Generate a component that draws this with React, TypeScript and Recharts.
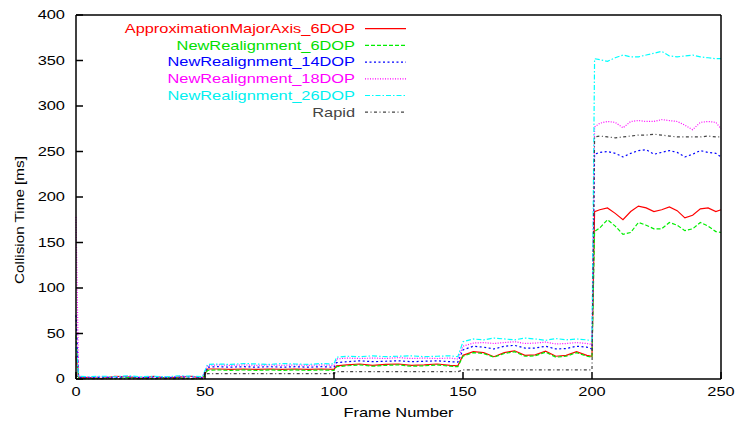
import { LineChart, Line, XAxis, YAxis, Legend } from "recharts";

// frame numbers where the curves were sampled
const frames = [
  0, 1, 5, 10, 15, 20, 25, 30, 35, 40, 45, 49,
  51, 55, 60, 65, 70, 75, 80, 85, 90, 95, 100,
  101, 105, 110, 115, 120, 125, 130, 135, 140, 145, 148,
  150, 154, 158, 162, 166, 170, 174, 178, 182, 186, 190, 194, 198, 200,
  201, 203, 206, 209, 212, 215, 218, 221, 224, 227, 230, 233, 236, 239, 242, 245, 248, 250,
];

const approxMajorAxis6 = [
  25, 2, 1.5, 0.5, 3, 2.5, 0.5, 3, 1, 2, 3, 0.5,
  11, 11, 10.5, 11, 10.5, 11, 10.5, 11, 10.5, 11, 10.5,
  14.5, 15.5, 16.5, 15, 16, 16.5, 15, 15.5, 16.5, 15, 14.5,
  26, 30, 29, 24.5, 29, 31, 26, 26.5, 30.5, 25, 26, 30, 26, 25,
  184, 186, 188, 182, 175, 184, 190, 188, 184, 186, 189, 185, 177, 180, 187, 188, 184, 186,
];

const realign6 = [
  48, 1, 0.5, 1, 0.5, 1.5, 1, 0.5, 1.5, 1, 0.5, 1,
  9.5, 10, 9.5, 10, 9.5, 10, 9.5, 10, 9.5, 10, 9.5,
  13.5, 14.5, 15.5, 14, 15, 15.5, 14, 14.5, 15.5, 14, 13.5,
  25, 29, 28, 24, 28, 30, 25, 25.5, 29.5, 24, 25, 29, 25, 24,
  162, 166, 175, 168, 159, 161, 172, 169, 165, 165, 172, 169, 163, 165, 172, 168, 162, 161,
];

const realign14 = [
  70, 2, 1.5, 2, 1.5, 2.5, 1.5, 2, 1.5, 2, 2.5, 1.5,
  13, 13.5, 13, 13.5, 13, 13.5, 13, 13.5, 13, 13.5, 13,
  18, 19, 20, 19, 19.5, 20, 19, 19.5, 20, 19, 18.5,
  32, 36, 35, 33, 36, 37, 34, 34, 36, 33, 33.5, 36, 35, 33,
  247, 249, 250, 248, 244, 248, 251, 252, 247, 249, 251, 249, 244, 247, 251, 249, 248, 244,
];

const realign18 = [
  178, 3, 2, 2.5, 2, 3, 2, 2.5, 2, 3, 2.5, 2,
  15, 15.5, 15, 15.5, 15, 15.5, 15, 15.5, 15, 15.5, 15,
  22, 23, 22.5, 23, 22.5, 23.5, 22.5, 23, 22.5, 23, 22,
  36, 39.5, 40, 39, 40, 41, 39, 39.5, 40.5, 38.5, 39, 40, 39, 38,
  277, 281, 283, 282, 276, 283, 284, 283, 283, 285, 284, 283, 279, 274, 282, 283, 282, 275,
];

const realign26 = [
  35, 3, 2.5, 3, 2.5, 3.5, 2.5, 3, 2.5, 3.5, 3, 2.5,
  16, 16.5, 16, 17, 16.5, 16, 17, 16.5, 16, 17, 16.5,
  24, 25, 24.5, 25.5, 24.5, 25, 25.5, 24.5, 25, 25.5, 24.5,
  41, 44, 43, 45, 44, 43, 45, 44, 42.5, 44.5, 43, 44, 43, 42,
  352, 351, 349, 353, 356, 354, 354, 356, 358, 360, 355, 354, 355, 356, 354, 353, 352, 352,
];

const rapid = [
  5, 0.5, 0.5, 0.5, 0.5, 0.5, 0.5, 0.5, 0.5, 0.5, 0.5, 0.5,
  6, 6, 6, 6, 6, 6, 6, 6, 6, 6, 6,
  8, 8, 8, 8, 8, 8, 8, 8, 8, 8, 8,
  10, 10, 10, 10, 10, 10, 10, 10, 10, 10, 10, 10, 10, 10,
  266, 267, 266, 265, 266, 267, 268, 268, 269, 268, 267, 266, 266, 266, 266, 267, 266, 266,
];

const xTicks = [0, 50, 100, 150, 200, 250];
const yTicks = [0, 50, 100, 150, 200, 250, 300, 350, 400];

const series = [
  { key: "approx6", name: "ApproximationMajorAxis_6DOP", color: "#ff0000", text: "#ff0000", dash: undefined, values: approxMajorAxis6 },
  { key: "re6", name: "NewRealignment_6DOP", color: "#00ee00", text: "#00e000", dash: "4 2", values: realign6 },
  { key: "re14", name: "NewRealignment_14DOP", color: "#0000ff", text: "#0000ff", dash: "2 2.5", values: realign14 },
  { key: "re18", name: "NewRealignment_18DOP", color: "#ff00ff", text: "#ff00ff", dash: "1 1.5", values: realign18 },
  { key: "re26", name: "NewRealignment_26DOP", color: "#00ffff", text: "#00f0f0", dash: "5 2 1.5 2", values: realign26 },
  { key: "rapid", name: "Rapid", color: "#444444", text: "#444444", dash: "3 2.5 1 2.5", values: rapid },
];

const data = frames.map((frame, i) => {
  const row: Record<string, number> = { frame };
  series.forEach((s) => {
    row[s.key] = s.values[i];
  });
  return row;
});

const FONT = '"Liberation Sans", Arial, Helvetica, sans-serif';
const FONT_SIZE = 12.6;
const STRETCH = 1.3;

// gnuplot text looks wide, so squash it sideways a bit
const WideText = ({ x, y, anchor, fill = "#000", rotate = 0, stretch = STRETCH, children }: any) => (
  <text
    transform={`translate(${x},${y}) rotate(${rotate}) scale(${stretch},1)`}
    textAnchor={anchor}
    dominantBaseline="central"
    fontFamily={FONT}
    fontSize={FONT_SIZE}
    fill={fill}
  >
    {children}
  </text>
);

const YTick = ({ x, y, payload }: any) => (
  <WideText x={x} y={y} anchor="end">{payload.value}</WideText>
);

const XTick = ({ x, y, payload }: any) => (
  <WideText x={x} y={y} anchor="middle">{payload.value}</WideText>
);

const YLabel = ({ viewBox }: any) => (
  <WideText x={viewBox.x + 3.5} y={viewBox.y + viewBox.height / 2 + 23} anchor="middle" rotate={-90} stretch={1.21}>
    Collision Time [ms]
  </WideText>
);

const XLabel = ({ viewBox }: any) => (
  <WideText x={viewBox.x + viewBox.width / 2} y={viewBox.y + 33.5} anchor="middle">
    Frame Number
  </WideText>
);

const KeyBox = () => (
  <svg width={420} height={125} style={{ display: "block" }}>
    {series.map((s, i) => {
      const cy = 28.7 + i * 16.7;
      return (
        <g key={s.key}>
          <WideText x={355} y={cy} anchor="end" fill={s.text}>{s.name}</WideText>
          <line x1={365} x2={406} y1={cy} y2={cy} stroke={s.color} strokeWidth={1.2} strokeDasharray={s.dash} />
        </g>
      );
    })}
  </svg>
);

const App = () => {
  return (
    <div style={{ position: "absolute", left: 0, top: 0, width: 735, height: 422, background: "#fff" }}>
      <LineChart width={735} height={422} data={data} margin={{ top: 14, right: 13, bottom: 13, left: 16 }}>
        <XAxis
          dataKey="frame"
          type="number"
          domain={[0, 250]}
          ticks={xTicks}
          tick={<XTick />}
          tickSize={-7}
          tickMargin={20}
          height={30}
          stroke="#000"
          strokeWidth={1.5}
          label={{ content: XLabel }}
        />
        <XAxis
          xAxisId="top"
          dataKey="frame"
          type="number"
          orientation="top"
          domain={[0, 250]}
          ticks={xTicks}
          tick={false}
          tickSize={-7}
          height={1}
          stroke="#000"
          strokeWidth={1.5}
        />
        <YAxis
          type="number"
          domain={[0, 400]}
          ticks={yTicks}
          tick={<YTick />}
          tickSize={-7}
          tickMargin={18}
          width={60}
          stroke="#000"
          strokeWidth={1.5}
          label={{ content: YLabel }}
        />
        <YAxis
          yAxisId="right"
          type="number"
          orientation="right"
          domain={[0, 400]}
          ticks={yTicks}
          tick={false}
          tickSize={-7}
          width={1}
          stroke="#000"
          strokeWidth={1.5}
        />
        <Legend
          layout="vertical"
          align="center"
          verticalAlign="middle"
          content={<KeyBox />}
          wrapperStyle={{ left: 0, top: 0, width: 420, height: 125 }}
        />
        {series.map((s) => (
          <Line
            key={s.key}
            dataKey={s.key}
            name={s.name}
            type="linear"
            stroke={s.color}
            strokeWidth={1.2}
            strokeDasharray={s.dash}
            dot={false}
            activeDot={false}
            isAnimationActive={false}
          />
        ))}
      </LineChart>
    </div>
  );
};

export default App;
